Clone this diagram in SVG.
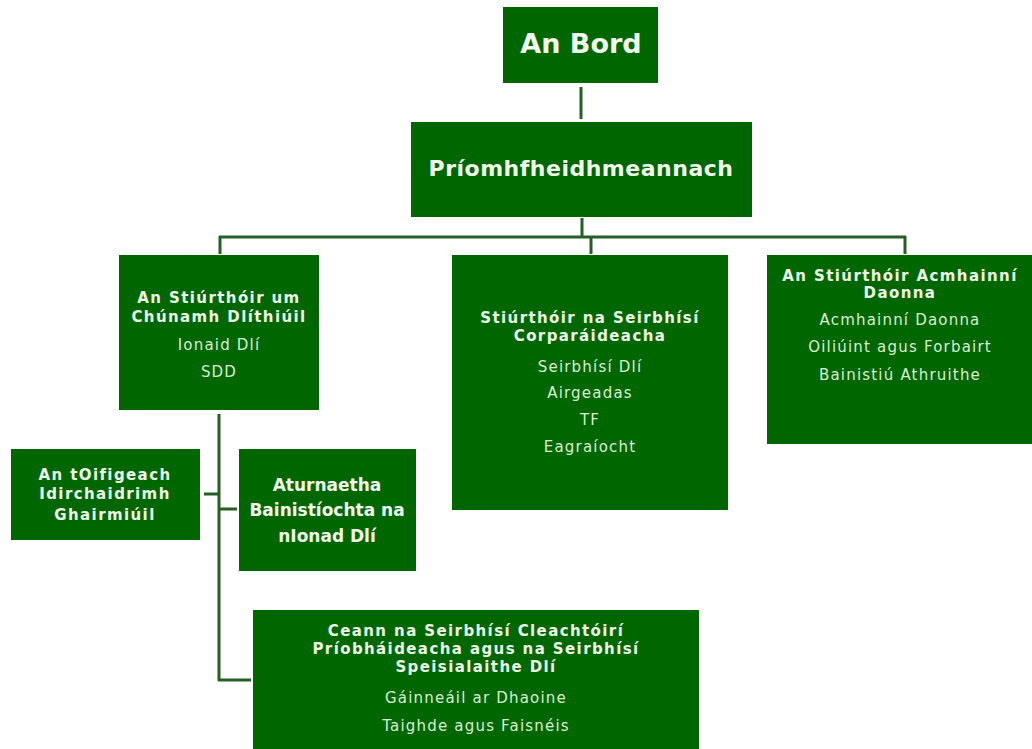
<svg xmlns="http://www.w3.org/2000/svg" width="1032" height="749" viewBox="0 0 1032 749">
<style>
.box{fill:#006600;stroke:none}
.conn{stroke:#245f24;stroke-width:3;fill:none}
text{font-family:"DejaVu Sans","Verdana",sans-serif;text-anchor:middle}
.h{font-weight:bold;font-size:15px;letter-spacing:1.4px;fill:#eef8e6}
.r{font-size:15px;letter-spacing:1.2px;fill:#d9efcd}
.big{font-weight:bold;fill:#f2faec}
</style>
<rect width="1032" height="749" fill="#ffffff"/>
<g id="connectors">
<path class="conn" d="M581,87 V119"/>
<path class="conn" d="M582,218 V237"/>
<path class="conn" d="M219,237 H906"/>
<path class="conn" d="M220,236 V254"/>
<path class="conn" d="M591,237 V254"/>
<path class="conn" d="M905,236 V254"/>
<path class="conn" d="M219,414 V681"/>
<path class="conn" d="M204,494 H219"/>
<path class="conn" d="M219,509 H237"/>
<path class="conn" d="M218,680 H251"/>
</g>
<g id="an-bord">
<rect class="box" x="503" y="7" width="155" height="76"/>
<text class="big" x="581" y="53" font-size="27">An Bord</text>
</g>
<g id="priomhfheidhmeannach">
<rect class="box" x="411" y="122" width="341" height="95"/>
<text class="big" x="581" y="176" font-size="22" letter-spacing="0.5">Príomhfheidhmeannach</text>
</g>
<g id="stiurthoir-cunamh">
<rect class="box" x="119" y="255" width="200" height="155"/>
<text class="h" x="219" y="303">An Stiúrthóir um</text>
<text class="h" x="219" y="322">Chúnamh Dlíthiúil</text>
<text class="r" x="219" y="350">Ionaid Dlí</text>
<text class="r" x="219" y="377">SDD</text>
</g>
<g id="stiurthoir-corparaideacha">
<rect class="box" x="452" y="255" width="276" height="255"/>
<text class="h" x="590" y="323">Stiúrthóir na Seirbhísí</text>
<text class="h" x="590" y="341">Corparáideacha</text>
<text class="r" x="590" y="372">Seirbhísí Dlí</text>
<text class="r" x="590" y="398">Airgeadas</text>
<text class="r" x="590" y="425">TF</text>
<text class="r" x="590" y="452">Eagraíocht</text>
</g>
<g id="stiurthoir-acmhainni">
<rect class="box" x="767" y="255" width="265" height="189"/>
<text class="h" x="900" y="281">An Stiúrthóir Acmhainní</text>
<text class="h" x="900" y="298">Daonna</text>
<text class="r" x="900" y="325">Acmhainní Daonna</text>
<text class="r" x="900" y="352">Oiliúint agus Forbairt</text>
<text class="r" x="900" y="380">Bainistiú Athruithe</text>
</g>
<g id="oifigeach">
<rect class="box" x="11" y="449" width="189" height="91"/>
<text class="h" x="105" y="480">An tOifigeach</text>
<text class="h" x="105" y="499">Idirchaidrimh</text>
<text class="h" x="105" y="520">Ghairmiúil</text>
</g>
<g id="aturnaetha">
<rect class="box" x="239" y="449" width="177" height="122"/>
<text class="big" x="327" y="491" font-size="17">Aturnaetha</text>
<text class="big" x="327" y="516" font-size="17">Bainistíochta na</text>
<text class="big" x="327" y="542" font-size="17">nIonad Dlí</text>
</g>
<g id="ceann">
<rect class="box" x="253" y="610" width="446" height="139"/>
<text class="h" x="476" y="636">Ceann na Seirbhísí Cleachtóirí</text>
<text class="h" x="476" y="654">Príobháideacha agus na Seirbhísí</text>
<text class="h" x="476" y="672">Speisialaithe Dlí</text>
<text class="r" x="476" y="703">Gáinneáil ar Dhaoine</text>
<text class="r" x="476" y="731">Taighde agus Faisnéis</text>
</g>
</svg>
